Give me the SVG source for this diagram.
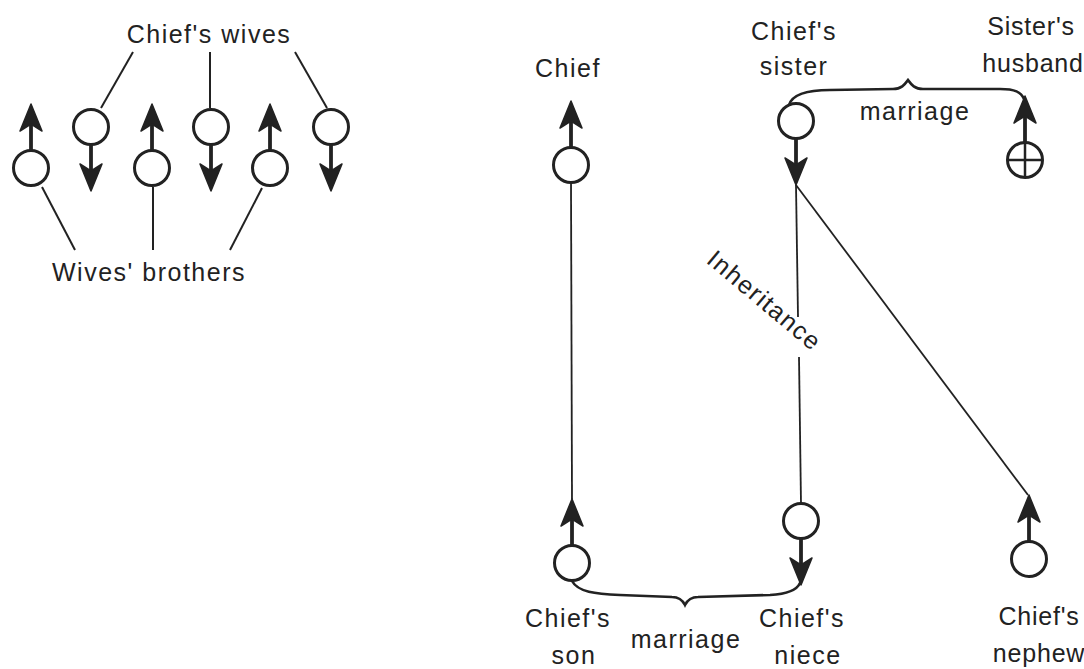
<svg xmlns="http://www.w3.org/2000/svg" xmlns:xlink="http://www.w3.org/1999/xlink" width="1084" height="669" viewBox="0 0 1084 669">
<style>
text{font-family:"Liberation Sans",Arial,sans-serif;font-size:25px;letter-spacing:1.5px;fill:#222;text-anchor:middle}
.tight{letter-spacing:0.8px}
.sym circle{fill:#fff;stroke:#222;stroke-width:3}
.sym line{stroke:#222;stroke-width:3.8}
.sym path{fill:#222;stroke:#222;stroke-width:1.5;stroke-linejoin:round}
.lead{stroke:#222;stroke-width:2;fill:none}
.conn{stroke:#222;stroke-width:1.8;fill:none}
.brace{stroke:#222;stroke-width:2.6;fill:none;stroke-linecap:round}
</style>
<defs>
<g id="male" class="sym">
<line x1="0" y1="-17" x2="0" y2="-50"/>
<path d="M0,-64 L11,-37 L0,-44 L-11,-37 Z"/>
<circle r="17.5"/>
</g>
<g id="female" class="sym">
<line x1="0" y1="17" x2="0" y2="50"/>
<path d="M0,64 L11,37 L0,44 L-11,37 Z"/>
<circle r="17.5"/>
</g>
</defs>
<rect width="1084" height="669" fill="#fff"/>

<g id="connectors">
<line class="lead" x1="133" y1="52" x2="101" y2="108"/>
<line class="lead" x1="210" y1="52" x2="210" y2="108"/>
<line class="lead" x1="295" y1="52" x2="327" y2="108"/>
<line class="lead" x1="42" y1="187" x2="75" y2="250"/>
<line class="lead" x1="153" y1="187" x2="153" y2="250"/>
<line class="lead" x1="262" y1="188" x2="230" y2="250"/>
<line class="conn" x1="571" y1="182" x2="572" y2="499"/>
<line class="conn" x1="796" y1="185" x2="798" y2="317"/>
<line class="conn" x1="799" y1="357" x2="801" y2="504"/>
<line class="conn" x1="796" y1="185" x2="1028" y2="495"/>
<path class="brace" d="M789,105 C792,95 805,90 830,90 L893,89 C902,89 905,84 908,80 C911,84 914,89 923,89 L1000,89 C1015,89 1021,92 1024,99"/>
<path class="brace" d="M572,581 C578,592 595,594 620,595 L672,597 C679,597 683,601 685,605 C687,601 691,597 698,597 L770,595 C788,594 797,590 800,583"/>
</g>

<g id="wives-group">
<text x="209" y="43">Chief's wives</text>
<text x="149" y="281">Wives' brothers</text>
</g>
<g id="brother1"><use xlink:href="#male" x="31" y="168"/></g>
<g id="wife1"><use xlink:href="#female" x="91" y="127"/></g>
<g id="brother2"><use xlink:href="#male" x="152" y="168"/></g>
<g id="wife2"><use xlink:href="#female" x="211" y="127"/></g>
<g id="brother3"><use xlink:href="#male" x="270" y="168"/></g>
<g id="wife3"><use xlink:href="#female" x="331" y="127"/></g>

<g id="chief">
<text x="568" y="77">Chief</text>
<use xlink:href="#male" x="571" y="165"/>
</g>
<g id="chiefs-sister">
<text x="794" y="40">Chief's</text>
<text x="794" y="75">sister</text>
<use xlink:href="#female" x="796" y="121"/>
</g>
<g id="sisters-husband">
<text class="tight" x="1031" y="35">Sister's</text>
<text class="tight" x="1033" y="72">husband</text>
<g class="sym">
<line x1="1025" y1="143" x2="1025" y2="110"/>
<path d="M1025,96 L1036,123 L1025,116 L1014,123 Z"/>
<circle cx="1025" cy="160" r="17.5"/>
<line x1="1025" y1="143" x2="1025" y2="177" style="stroke-width:2.5"/>
<line x1="1008" y1="160" x2="1042" y2="160" style="stroke-width:2.5"/>
</g>
</g>
<g id="marriage-top"><text x="915" y="120">marriage</text></g>
<g id="inheritance-label"><text transform="translate(759,307) rotate(40)">Inheritance</text></g>
<g id="chiefs-son">
<use xlink:href="#male" x="572" y="563"/>
<text x="568" y="627">Chief's</text>
<text x="574" y="664">son</text>
</g>
<g id="marriage-bottom"><text x="686" y="648">marriage</text></g>
<g id="chiefs-niece">
<use xlink:href="#female" x="801" y="521"/>
<text x="802" y="627">Chief's</text>
<text x="808" y="664">niece</text>
</g>
<g id="chiefs-nephew">
<use xlink:href="#male" x="1029" y="559"/>
<text class="tight" x="1039" y="625">Chief's</text>
<text class="tight" x="1039" y="662">nephew</text>
</g>
</svg>
